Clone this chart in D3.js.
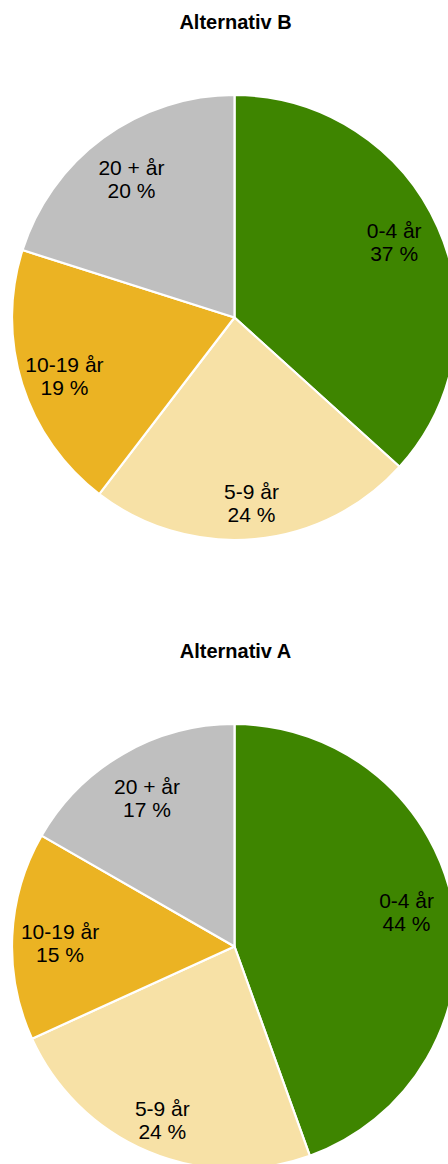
<!DOCTYPE html>
<html><head><meta charset="utf-8">
<script src="https://cdn.jsdelivr.net/npm/d3@7"></script>
<style>html,body{margin:0;padding:0;background:#fff;overflow:hidden}</style>
</head><body>
<svg id="c" width="448" height="1164"></svg>
<script>
const categories = ["0-4 år", "5-9 år", "10-19 år", "20 + år"];
const colors = ["#3e8500", "#f7e1a6", "#ebb323", "#bfbfbf"];
const titles = ["Alternativ B", "Alternativ A"];
const valuesB = [36.7, 23.7, 19.5, 20.1];
const valuesA = [44.5, 23.7, 15.1, 16.7];
const labelsB = ["37 %", "24 %", "19 %", "20 %"];
const labelsA = ["44 %", "24 %", "15 %", "17 %"];

const charts = [
  {title: titles[0], values: valuesB, labels: labelsB, cy: 317.5, ty: 29},
  {title: titles[1], values: valuesA, labels: labelsA, cy: 946.5, ty: 658}
];
const svg = d3.select("#c");
const cx = 234.5, r = 222.5;
const pie = d3.pie().sort(null).value(d => d);
const arc = d3.arc().innerRadius(0).outerRadius(r);

charts.forEach(ch => {
  svg.append("text").attr("x", cx + 1).attr("y", ch.ty)
    .attr("text-anchor", "middle")
    .style("font", "bold 20px 'Liberation Sans', Arial, sans-serif")
    .text(ch.title);
  const g = svg.append("g").attr("transform", `translate(${cx},${ch.cy})`);
  const arcs = pie(ch.values);
  g.selectAll("path").data(arcs).enter().append("path")
    .attr("d", arc)
    .attr("fill", (d, i) => colors[i])
    .attr("stroke", "#fff").attr("stroke-width", 2.2).attr("stroke-linejoin", "round");
  arcs.forEach((d, i) => {
    const a = (d.startAngle + d.endAngle) / 2;
    const ux = Math.sin(a), uy = -Math.cos(a);
    const dist = 0.785 * r + 12 * Math.max(0, uy);
    const x = ux * dist, y = uy * dist - 5 * ux;
    const t = g.append("text").attr("text-anchor", "middle")
      .style("font", "21px 'Liberation Sans', Arial, sans-serif").attr("fill", "#000");
    t.append("tspan").attr("x", x).attr("y", y - 4).text(categories[i]);
    t.append("tspan").attr("x", x).attr("y", y + 19).text(ch.labels[i]);
  });
});
</script>
</body></html>
